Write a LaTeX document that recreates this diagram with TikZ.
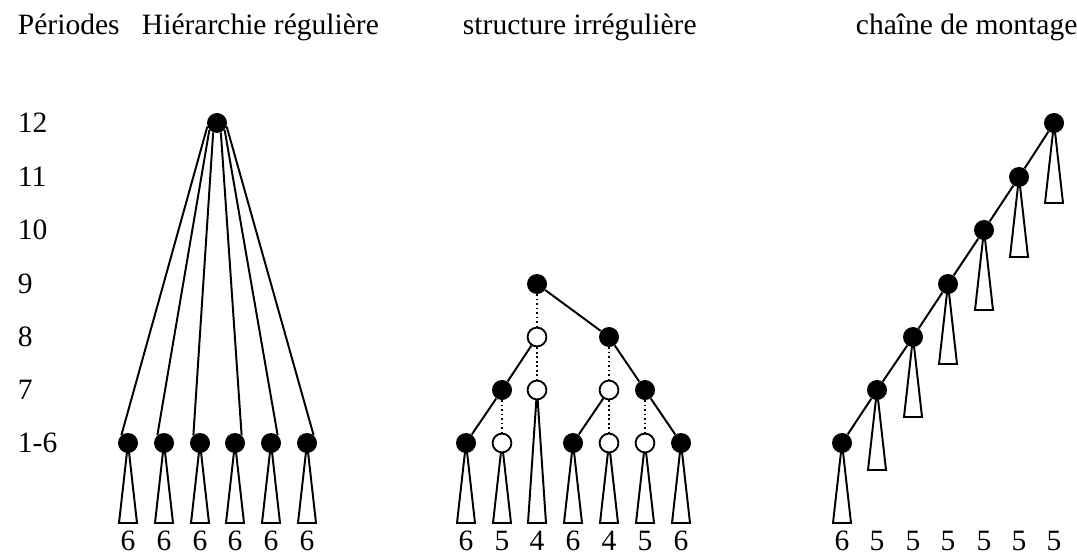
\documentclass[tikz,border=0pt]{standalone}
\usepackage{fontspec}
\setmainfont{Liberation Serif}
\usetikzlibrary{backgrounds}

\begin{document}
\begin{tikzpicture}[
  x=0.025cm, y=-0.025cm,
  every node/.style={font=\fontsize{21}{25}\selectfont},
  fullnode/.style={circle, fill=black, minimum size=0.5cm, inner sep=0pt},
  opennode/.style={circle, draw, fill=white, line width=1.3pt, minimum size=0.47cm, inner sep=0pt},
  link/.style={line width=1.4pt},
  dotlink/.style={line width=1.2pt, dotted},
  tri/.style={line width=1.4pt, fill=white},
  num/.style={anchor=base},
  period/.style={anchor=west}
]
  \useasboundingbox (0,0) rectangle (1077,557);

  % headings
  \node[anchor=base west] (hper) at (13,35) {Périodes};
  \node[anchor=base west] (hreg) at (137,35) {Hiérarchie régulière};
  \node[anchor=base west] (hirr) at (458,35) {structure irrégulière};
  \node[anchor=base west] (hcha) at (851,35) {chaîne de montage};

  % periods
  \node[period] (p12) at (13,123) {12};
  \node[period] (p11) at (13,177) {11};
  \node[period] (p10) at (13,230) {10};
  \node[period] (p9)  at (13,284) {9};
  \node[period] (p8)  at (13,337) {8};
  \node[period] (p7)  at (13,390) {7};
  \node[period] (p16) at (13,443) {1-6};

  % regular hierarchy
  \node[fullnode] (root) at (217,123) {};
  \node[fullnode] (l1) at (128,443) {};
  \node[fullnode] (l2) at (164,443) {};
  \node[fullnode] (l3) at (200,443) {};
  \node[fullnode] (l4) at (235,443) {};
  \node[fullnode] (l5) at (271,443) {};
  \node[fullnode] (l6) at (307,443) {};
  \draw[link] (root.200) -- (l1.130);
  \draw[link] (root.222) -- (l2.130);
  \draw[link] (root.248) -- (l3.130);
  \draw[link] (root.292) -- (l4.50);
  \draw[link] (root.318) -- (l5.50);
  \draw[link] (root.340) -- (l6.50);

  % irregular structure
  \node[fullnode] (m9)  at (537,284) {};
  \node[opennode] (m8a) at (537,337) {};
  \node[fullnode] (m8b) at (609,337) {};
  \node[fullnode] (m7a) at (502,390) {};
  \node[opennode] (m7b) at (537,390) {};
  \node[opennode] (m7c) at (609,390) {};
  \node[fullnode] (m7d) at (645,390) {};
  \node[fullnode] (m6a) at (466,443) {};
  \node[opennode] (m6b) at (502,443) {};
  \node[fullnode] (m6c) at (573,443) {};
  \node[opennode] (m6d) at (609,443) {};
  \node[opennode] (m6e) at (645,443) {};
  \node[fullnode] (m6f) at (681,443) {};
  \draw[dotlink] (m9) -- (m8a);
  \draw[link] (m9) -- (m8b);
  \draw[link] (m8a) -- (m7a);
  \draw[dotlink] (m8a) -- (m7b);
  \draw[dotlink] (m8b) -- (m7c);
  \draw[link] (m8b) -- (m7d);
  \draw[link] (m7a) -- (m6a);
  \draw[dotlink] (m7a) -- (m6b);
  \draw[link] (m7c) -- (m6c);
  \draw[dotlink] (m7c) -- (m6d);
  \draw[dotlink] (m7d) -- (m6e);
  \draw[link] (m7d) -- (m6f);

  % assembly line
  \node[fullnode] (c1) at (842,443) {};
  \node[fullnode] (c2) at (877,390) {};
  \node[fullnode] (c3) at (913,337) {};
  \node[fullnode] (c4) at (948,284) {};
  \node[fullnode] (c5) at (984,230) {};
  \node[fullnode] (c6) at (1019,177) {};
  \node[fullnode] (c7) at (1054,123) {};
  \draw[link] (c1) -- (c2) -- (c3) -- (c4) -- (c5) -- (c6) -- (c7);

  % sub-trees
  \begin{scope}[on background layer]
    \draw[tri] (l1.center) -- ++(-9,80) -- ++(18,0) -- cycle;
    \draw[tri] (l2.center) -- ++(-9,80) -- ++(18,0) -- cycle;
    \draw[tri] (l3.center) -- ++(-9,80) -- ++(18,0) -- cycle;
    \draw[tri] (l4.center) -- ++(-9,80) -- ++(18,0) -- cycle;
    \draw[tri] (l5.center) -- ++(-9,80) -- ++(18,0) -- cycle;
    \draw[tri] (l6.center) -- ++(-9,80) -- ++(18,0) -- cycle;
    \draw[tri] (m6a.center) -- ++(-9,80) -- ++(18,0) -- cycle;
    \draw[tri] (m6b.center) -- ++(-9,80) -- ++(18,0) -- cycle;
    \draw[tri] (m7b.center) -- ++(-9,133) -- ++(18,0) -- cycle;
    \draw[tri] (m6c.center) -- ++(-9,80) -- ++(18,0) -- cycle;
    \draw[tri] (m6d.center) -- ++(-9,80) -- ++(18,0) -- cycle;
    \draw[tri] (m6e.center) -- ++(-9,80) -- ++(18,0) -- cycle;
    \draw[tri] (m6f.center) -- ++(-9,80) -- ++(18,0) -- cycle;
    \draw[tri] (c1.center) -- ++(-9,80) -- ++(18,0) -- cycle;
    \draw[tri] (c2.center) -- ++(-9,80) -- ++(18,0) -- cycle;
    \draw[tri] (c3.center) -- ++(-9,80) -- ++(18,0) -- cycle;
    \draw[tri] (c4.center) -- ++(-9,80) -- ++(18,0) -- cycle;
    \draw[tri] (c5.center) -- ++(-9,80) -- ++(18,0) -- cycle;
    \draw[tri] (c6.center) -- ++(-9,80) -- ++(18,0) -- cycle;
    \draw[tri] (c7.center) -- ++(-9,80) -- ++(18,0) -- cycle;
  \end{scope}

  % sizes
  \node[num] (n1) at (128,550) {6};
  \node[num] (n2) at (164,550) {6};
  \node[num] (n3) at (200,550) {6};
  \node[num] (n4) at (235,550) {6};
  \node[num] (n5) at (271,550) {6};
  \node[num] (n6) at (307,550) {6};
  \node[num] (na) at (466,550) {6};
  \node[num] (nb) at (502,550) {5};
  \node[num] (nc) at (537,550) {4};
  \node[num] (nd) at (573,550) {6};
  \node[num] (ne) at (609,550) {4};
  \node[num] (nf) at (645,550) {5};
  \node[num] (ng) at (681,550) {6};
  \node[num] (c1n) at (842,550) {6};
  \node[num] (c2n) at (877,550) {5};
  \node[num] (c3n) at (913,550) {5};
  \node[num] (c4n) at (948,550) {5};
  \node[num] (c5n) at (984,550) {5};
  \node[num] (c6n) at (1019,550) {5};
  \node[num] (c7n) at (1054,550) {5};
\end{tikzpicture}
\end{document}
